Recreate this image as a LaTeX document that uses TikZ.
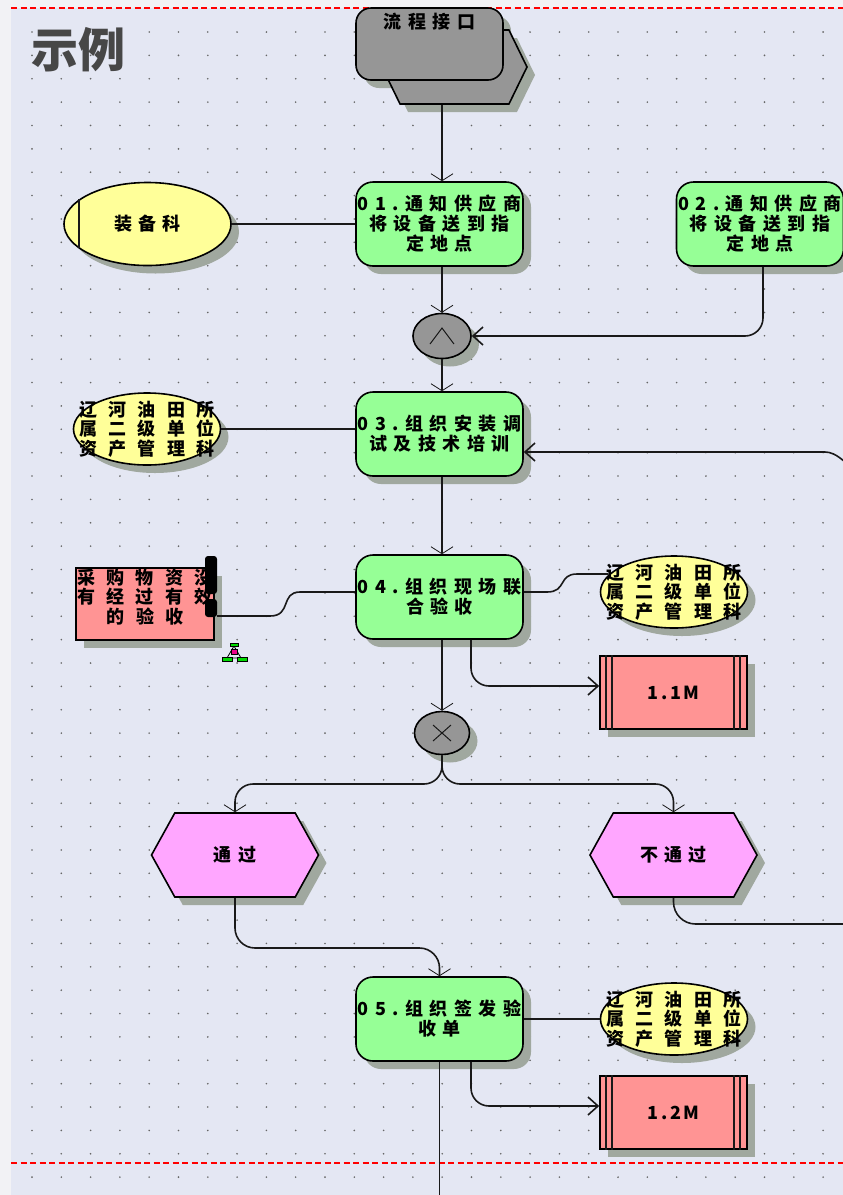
\documentclass[tikz,border=0pt]{standalone}
\usepackage{fontspec}
\usepackage{tikz}
\usetikzlibrary{arrows.meta}
\usetikzlibrary{shadows}
\usetikzlibrary{shapes}
\setmainfont{Noto Sans CJK SC}
\newfontfamily\cjkbox[LetterSpace=36]{Noto Sans CJK SC}
\newfontfamily\cjkwide[LetterSpace=62]{Noto Sans CJK SC}
\newfontfamily\cjkdata[LetterSpace=14]{Noto Sans CJK SC}
\definecolor{pagecol}{HTML}{F2F2F5}
\definecolor{canvascol}{HTML}{E4E7F3}
\definecolor{shadowcol}{HTML}{A0A89F}
\definecolor{funccol}{HTML}{96FF96}
\definecolor{orgcol}{HTML}{FFFF99}
\definecolor{datacol}{HTML}{FF9494}
\definecolor{eventcol}{HTML}{FFA6FF}
\definecolor{ifcol}{HTML}{969696}
\begin{document}
\begin{tikzpicture}[x=1pt,y=-1pt]
	\tikzstyle{shade}=[drop shadow={shadow xshift=8pt,shadow yshift=-8pt,fill=shadowcol,opacity=1}]
	\tikzstyle{func}=[draw,line width=1.6pt,rounded corners=17pt,fill=funccol,minimum width=167pt,minimum height=84pt,inner sep=0pt,shade]
	\tikzstyle{org}=[draw,line width=1.6pt,ellipse,fill=orgcol,minimum width=147pt,minimum height=72pt,inner sep=0pt,shade]
	\tikzstyle{docu}=[draw,line width=1.6pt,fill=datacol,minimum width=147pt,minimum height=73pt,inner sep=0pt,shade]
	\tikzstyle{evt}=[draw,line width=1.6pt,signal,signal to=west and east,signal pointer angle=122,fill=eventcol,minimum width=167pt,minimum height=84pt,inner sep=0pt,shade]
	\tikzstyle{gate}=[draw,line width=1.6pt,ellipse,fill=ifcol,inner sep=0pt,shade]
	\tikzstyle{boxtext}=[font=\cjkbox\bfseries\fontsize{18pt}{20pt}\selectfont,align=center,inner sep=0pt]
	\tikzstyle{widetext}=[font=\cjkwide\bfseries\fontsize{18pt}{19.5pt}\selectfont,align=center,inner sep=0pt]
	\tikzstyle{datatext}=[font=\cjkdata\bfseries\fontsize{18pt}{20pt}\selectfont,inner sep=0pt]
	\tikzstyle{line}=[line width=1.6pt,black!90]
	\tikzstyle{conn}=[line,-{Straight Barb[length=10pt,width=18pt]}]
	\tikzstyle{connv}=[line,-{Straight Barb[length=7pt,width=22pt,line width=0.8pt]}]

	\useasboundingbox (0,0) rectangle (843,1195);
	\clip (0,0) rectangle (843,1195);
	\fill[pagecol] (0,0) rectangle (843,1195);
	\fill[canvascol] (11,8) rectangle (843,1195);
	\foreach \i in {0,...,27}
		\foreach \j in {0,...,49}
			\fill[black!60] ({32+29.3*\i},{32+23.37*\j}) circle (0.9pt);
	\draw[red,line width=1.5pt,dash pattern=on 6pt off 3.5pt] (11,8) -- (843,8);
	\draw[red,line width=1.5pt,dash pattern=on 6pt off 3.5pt] (11,1163) -- (843,1163);
	\node[font=\bfseries\fontsize{47pt}{47pt}\selectfont,text=black!72,inner sep=0pt] (title) at (78,50) {示例};

	\fill[shadowcol,rounded corners=15pt] (364,16) rectangle (511,88);
	\node[evt,signal pointer angle=128,fill=ifcol,minimum width=145pt,minimum height=74pt] (ifback) at (454.5,67) {};
	\node[draw,line width=1.6pt,rounded corners=15pt,fill=ifcol,minimum width=147pt,minimum height=72pt,label={[boxtext,anchor=center,yshift=-14pt]north:流程接口}] (iffront) at (429.5,44) {};

	\node[func,label={[boxtext]center:{01.通知供应商\\将设备送到指\\定地点}}] (f01) at (439.5,224) {};
	\node[func,label={[boxtext]center:{02.通知供应商\\将设备送到指\\定地点}}] (f02) at (760,224) {};
	\node[func,label={[boxtext]center:{03.组织安装调\\试及技术培训}}] (f03) at (439.5,434) {};
	\node[func,label={[boxtext]center:{04.组织现场联\\合验收}}] (f04) at (439.5,597) {};
	\node[func,label={[boxtext]center:{05.组织签发验\\收单}}] (f05) at (439.5,1019) {};

	\node[gate,minimum width=58pt,minimum height=45pt] (andg) at (442,336) {};
	\draw[line,line width=1pt] ([shift={(-12,8)}]andg.center) -- ([yshift=8pt]andg.north |- andg.center) -- ([shift={(12,8)}]andg.center);
	\node[gate,minimum width=55pt,minimum height=43pt] (xorg) at (442,733) {};
	\draw[line,line width=1pt] ([shift={(-9,-8)}]xorg.center) -- ([shift={(9,8)}]xorg.center);
	\draw[line,line width=1pt] ([shift={(9,-8)}]xorg.center) -- ([shift={(-9,8)}]xorg.center);

	\node[org,minimum width=167pt,minimum height=83pt,label={[boxtext]center:装备科}] (e1) at (147.5,224) {};
	\draw[line] (79,199) -- (79,248);
	\node[org,label={[widetext]center:{辽河油田所\\属二级单位\\资产管理科}}] (e2) at (147,429) {};
	\node[org,label={[widetext]center:{辽河油田所\\属二级单位\\资产管理科}}] (e3) at (674,592) {};
	\node[org,label={[widetext]center:{辽河油田所\\属二级单位\\资产管理科}}] (e4) at (674,1019) {};

	\node[docu,minimum width=138pt,minimum height=72pt,label={[widetext,yshift=7pt]center:{采购物资没\\有经过有效\\的验收}}] (hb) at (145,604) {};
	\node[fill=black,rounded corners=3pt,minimum width=12pt,minimum height=38pt,inner sep=0pt] (hb1) at (211,575) {};
	\node[fill=black,rounded corners=3pt,minimum width=12pt,minimum height=18pt,inner sep=0pt] (hb2) at (211,608) {};

	\node[docu,label={[datatext]center:1.1M}] (d11) at (673.5,692.5) {};
	\node[docu,label={[datatext]center:1.2M}] (d12) at (673.5,1112.5) {};
	\foreach \k in {7,13,135,141} {
		\draw[line] ([xshift=\k pt]d11.north west) -- ([xshift=\k pt]d11.south west);
		\draw[line] ([xshift=\k pt]d12.north west) -- ([xshift=\k pt]d12.south west);
	}

	\node[evt,label={[boxtext]center:通过}] (ev1) at (235,855) {};
	\node[evt,label={[boxtext]center:不通过}] (ev2) at (673.5,855) {};

	\draw[connv] (ifback.south -| andg) -- (f01.north -| andg);
	\draw[line] (e1.east) -- (e1.east -| f01.west);
	\draw[connv] (f01.south -| andg) -- (andg.north);
	\draw[conn,rounded corners=18pt] ([xshift=3pt]f02.south) |- (andg.east);
	\draw[connv] (andg.south) -- (f03.north -| andg);
	\draw[line] (e2.east) -- (e2.east -| f03.west);
	\draw[connv] (f03.south -| andg) -- (f04.north -| andg);

	\coordinate (loopin) at (845,462);
	\coordinate (loopbend) at (825,452);
	\draw[conn] (loopin) .. controls (836,454) and (830,452) .. (loopbend) -- (loopbend -| f03.east);

	\coordinate (w1) at (300,592);
	\coordinate (w2) at (270,616);
	\draw[line] (w1 -| f04.west) -- (w1) .. controls (280,592) and (292,616) .. (w2) -- (w2 -| hb2.east);
	\coordinate (w3) at (547,592);
	\coordinate (w4) at (577,574);
	\draw[line] (w3 -| f04.east) -- (w3) .. controls (567,592) and (558,574) .. (w4) -- (608,574);

	\draw[conn,rounded corners=18pt] ([xshift=31.5pt]f04.south) |- ([yshift=6.5pt]d11.west);
	\draw[connv] (f04.south -| xorg) -- (xorg.north);

	\coordinate (split) at (340,784);
	\draw[connv,rounded corners=18pt] (xorg.south) |- (split) -| (ev1.north);
	\draw[connv,rounded corners=18pt] (xorg.south) |- (split -| 560,0) -| (ev2.north);

	\coordinate (t05) at (340,948);
	\draw[connv,rounded corners=20pt] (ev1.south) |- (t05) -| (f05.north);
	\coordinate (loopout) at (845,924);
	\draw[line,rounded corners=22pt] (ev2.south) |- (loopout);

	\draw[line] (f05.east) -- (e4.west);
	\draw[conn,rounded corners=18pt] ([xshift=31.5pt]f05.south) |- ([yshift=6.5pt]d12.west);
	\coordinate (out05) at (439.5,1195);
	\draw[line] (f05.south) -- (out05);

	\draw[black,line width=0.8pt] (234,646) -- (227,658) -- (241,658) -- cycle;
	\filldraw[fill=green!85!black,draw=black,line width=0.5pt] (230,643) rectangle (238,646.5);
	\filldraw[fill=magenta,draw=black,line width=0.5pt] (231.5,649) rectangle (237,654);
	\filldraw[fill=green!85!black,draw=black,line width=0.5pt] (222,657) rectangle (232,661);
	\filldraw[fill=green!85!black,draw=black,line width=0.5pt] (237,657) rectangle (247,661);
\end{tikzpicture}
\end{document}
